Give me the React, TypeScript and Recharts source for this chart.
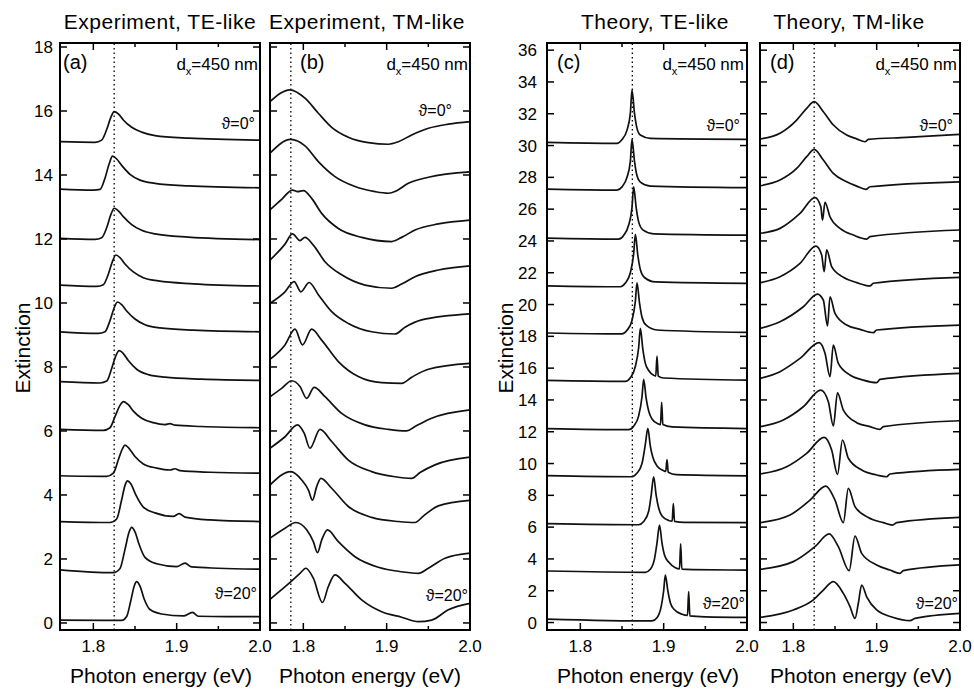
import React from 'react';
import { LineChart, Line, XAxis, YAxis, ReferenceLine } from 'recharts';

type Curve = number[][];

const FONT = '"Liberation Sans", Arial, sans-serif';

// x axis: photon energy (eV)
const energyTicks = [1.8, 1.85, 1.9, 1.95, 2.0];
const energyLabels: Record<string, string> = { '1.8': '1.8', '1.9': '1.9', '2': '2.0' };

// y axis ticks
const expTicks = [0, 2, 4, 6, 8, 10, 12, 14, 16, 18];
const theoTicks = [0, 2, 4, 6, 8, 10, 12, 14, 16, 18, 20, 22, 24, 26, 28, 30, 32, 34, 36];

// (a) Experiment, TE-like — theta 0..20 deg, top to bottom
const expTE: Curve[] = [
  [[1.76, 15.04], [1.802, 15.02], [1.81, 15.09], [1.816, 15.42], [1.821, 15.8], [1.825, 15.98], [1.83, 15.91], [1.836, 15.72], [1.846, 15.49], [1.858, 15.34], [1.874, 15.23], [1.914, 15.15], [2.0, 15.09]],
  [[1.76, 13.56], [1.8, 13.53], [1.808, 13.55], [1.814, 13.9], [1.819, 14.35], [1.823, 14.59], [1.828, 14.5], [1.834, 14.3], [1.844, 14.02], [1.856, 13.84], [1.874, 13.74], [1.914, 13.66], [2.0, 13.6]],
  [[1.76, 12.02], [1.802, 11.99], [1.81, 12.04], [1.816, 12.35], [1.821, 12.76], [1.825, 12.96], [1.83, 12.88], [1.836, 12.7], [1.846, 12.45], [1.858, 12.27], [1.874, 12.16], [1.914, 12.06], [2.0, 11.98]],
  [[1.76, 10.56], [1.804, 10.52], [1.812, 10.57], [1.818, 10.9], [1.823, 11.3], [1.827, 11.5], [1.832, 11.42], [1.838, 11.22], [1.848, 10.97], [1.86, 10.79], [1.878, 10.69], [1.92, 10.6], [2.0, 10.53]],
  [[1.76, 9.1], [1.806, 9.05], [1.814, 9.1], [1.82, 9.45], [1.825, 9.85], [1.829, 10.03], [1.834, 9.95], [1.84, 9.75], [1.85, 9.5], [1.862, 9.32], [1.88, 9.22], [1.92, 9.15], [2.0, 9.1]],
  [[1.76, 7.54], [1.808, 7.5], [1.816, 7.56], [1.822, 7.95], [1.827, 8.35], [1.831, 8.51], [1.836, 8.42], [1.842, 8.2], [1.852, 7.93], [1.866, 7.76], [1.886, 7.68], [1.93, 7.62], [2.0, 7.58]],
  [[1.76, 6.05], [1.812, 6.02], [1.82, 6.1], [1.826, 6.45], [1.832, 6.8], [1.836, 6.92], [1.842, 6.82], [1.848, 6.62], [1.858, 6.4], [1.872, 6.26], [1.886, 6.2], [1.892, 6.23], [1.898, 6.18], [1.93, 6.14], [2.0, 6.1]],
  [[1.76, 4.6], [1.816, 4.58], [1.824, 4.68], [1.83, 5.1], [1.835, 5.45], [1.838, 5.56], [1.843, 5.45], [1.85, 5.2], [1.86, 4.97], [1.876, 4.84], [1.892, 4.78], [1.898, 4.82], [1.904, 4.76], [1.94, 4.71], [2.0, 4.68]],
  [[1.76, 3.17], [1.82, 3.14], [1.828, 3.25], [1.834, 3.85], [1.838, 4.3], [1.841, 4.44], [1.845, 4.35], [1.851, 4.0], [1.86, 3.62], [1.874, 3.44], [1.896, 3.33], [1.903, 3.42], [1.91, 3.31], [1.94, 3.22], [2.0, 3.17]],
  [[1.76, 1.66], [1.824, 1.57], [1.832, 1.7], [1.838, 2.3], [1.843, 2.85], [1.846, 2.99], [1.85, 2.85], [1.855, 2.45], [1.862, 2.05], [1.876, 1.85], [1.9, 1.76], [1.91, 1.87], [1.918, 1.75], [1.95, 1.71], [2.0, 1.68]],
  [[1.76, 0.09], [1.834, 0.08], [1.84, 0.2], [1.845, 0.7], [1.849, 1.15], [1.852, 1.29], [1.856, 1.15], [1.861, 0.75], [1.868, 0.42], [1.882, 0.28], [1.908, 0.22], [1.919, 0.33], [1.926, 0.21], [1.96, 0.2], [2.0, 0.2]],
];

// (b) Experiment, TM-like
const expTM: Curve[] = [
  [[1.76, 16.29], [1.784, 16.66], [1.802, 16.4], [1.818, 15.93], [1.834, 15.49], [1.854, 15.18], [1.878, 15.01], [1.902, 14.96], [1.914, 15.04], [1.93, 15.25], [1.95, 15.46], [1.974, 15.59], [2.0, 15.67]],
  [[1.76, 14.68], [1.785, 15.11], [1.802, 14.91], [1.818, 14.42], [1.838, 13.95], [1.862, 13.64], [1.886, 13.48], [1.902, 13.43], [1.912, 13.51], [1.926, 13.74], [1.95, 13.93], [2.0, 14.1]],
  [[1.76, 12.91], [1.774, 13.24], [1.787, 13.53], [1.793, 13.48], [1.8, 13.51], [1.81, 13.27], [1.822, 12.8], [1.842, 12.33], [1.87, 12.05], [1.906, 11.92], [1.918, 12.05], [1.934, 12.28], [1.962, 12.47], [2.0, 12.59]],
  [[1.76, 11.34], [1.778, 11.84], [1.787, 12.16], [1.796, 11.95], [1.802, 12.05], [1.812, 11.81], [1.826, 11.29], [1.846, 10.88], [1.874, 10.56], [1.906, 10.46], [1.918, 10.59], [1.934, 10.82], [1.962, 11.03], [2.0, 11.16]],
  [[1.76, 9.99], [1.778, 10.35], [1.789, 10.67], [1.797, 10.35], [1.807, 10.64], [1.818, 10.26], [1.834, 9.73], [1.854, 9.36], [1.882, 9.1], [1.91, 9.03], [1.922, 9.24], [1.942, 9.47], [2.0, 9.66]],
  [[1.76, 8.24], [1.778, 8.69], [1.79, 9.18], [1.799, 8.69], [1.81, 9.18], [1.822, 8.84], [1.842, 8.17], [1.866, 7.7], [1.894, 7.51], [1.918, 7.49], [1.93, 7.68], [1.95, 7.93], [2.0, 8.11]],
  [[1.76, 7.07], [1.774, 7.33], [1.786, 7.57], [1.796, 7.39], [1.804, 7.02], [1.813, 7.36], [1.826, 7.07], [1.846, 6.55], [1.874, 6.19], [1.902, 6.05], [1.924, 6.0], [1.934, 6.14], [1.954, 6.4], [2.0, 6.66]],
  [[1.76, 5.46], [1.778, 5.82], [1.793, 6.19], [1.801, 5.93], [1.808, 5.46], [1.82, 6.05], [1.834, 5.67], [1.854, 5.09], [1.882, 4.73], [1.91, 4.57], [1.93, 4.52], [1.94, 4.7], [1.958, 4.94], [2.0, 5.18]],
  [[1.76, 4.31], [1.785, 4.73], [1.798, 4.47], [1.806, 4.16], [1.811, 3.84], [1.816, 4.26], [1.821, 4.52], [1.834, 4.21], [1.854, 3.64], [1.882, 3.3], [1.914, 3.17], [1.934, 3.14], [1.944, 3.34], [1.962, 3.66], [2.0, 3.83]],
  [[1.76, 2.65], [1.778, 2.96], [1.791, 3.14], [1.804, 2.91], [1.812, 2.54], [1.817, 2.2], [1.822, 2.59], [1.829, 2.91], [1.842, 2.54], [1.862, 2.07], [1.89, 1.74], [1.918, 1.6], [1.938, 1.55], [1.95, 1.71], [1.97, 2.02], [2.0, 2.18]],
  [[1.76, 0.74], [1.782, 1.22], [1.796, 1.55], [1.803, 1.71], [1.812, 1.4], [1.823, 0.64], [1.83, 1.14], [1.838, 1.5], [1.85, 1.24], [1.87, 0.72], [1.894, 0.35], [1.918, 0.18], [1.938, 0.04], [1.954, 0.09], [1.974, 0.41], [2.0, 0.61]],
];

// (c) Theory, TE-like
const theoTE: Curve[] = [
  [[1.76, 30.2], [1.844, 30.14], [1.8496, 30.35], [1.856, 30.97], [1.86, 32.02], [1.862, 33.49], [1.865, 32.02], [1.868, 31.08], [1.872, 30.66], [1.884, 30.45], [2.0, 30.39]],
  [[1.76, 27.26], [1.844, 27.2], [1.85, 27.4], [1.856, 28.0], [1.86, 29.0], [1.862, 30.39], [1.865, 29.0], [1.868, 28.1], [1.872, 27.7], [1.884, 27.45], [2.0, 27.35]],
  [[1.76, 24.18], [1.846, 24.12], [1.852, 24.35], [1.858, 25.0], [1.862, 26.1], [1.864, 27.41], [1.867, 26.1], [1.87, 25.2], [1.875, 24.7], [1.888, 24.45], [2.0, 24.37]],
  [[1.76, 21.18], [1.848, 21.12], [1.854, 21.35], [1.86, 22.0], [1.864, 23.2], [1.866, 24.41], [1.869, 23.1], [1.872, 22.2], [1.877, 21.7], [1.89, 21.42], [2.0, 21.33]],
  [[1.76, 18.21], [1.85, 18.15], [1.856, 18.38], [1.862, 19.0], [1.866, 20.2], [1.868, 21.37], [1.871, 20.1], [1.874, 19.2], [1.879, 18.7], [1.892, 18.4], [2.0, 18.25]],
  [[1.76, 15.23], [1.854, 15.17], [1.86, 15.4], [1.866, 16.1], [1.87, 17.3], [1.872, 18.5], [1.875, 17.2], [1.878, 16.3], [1.882, 15.85], [1.888, 15.55], [1.8905, 15.5], [1.892, 16.75], [1.8935, 15.5], [1.9, 15.38], [2.0, 15.25]],
  [[1.76, 12.2], [1.858, 12.13], [1.864, 12.35], [1.87, 13.0], [1.874, 14.2], [1.876, 15.29], [1.879, 14.1], [1.882, 13.3], [1.886, 12.8], [1.893, 12.5], [1.8962, 12.45], [1.8976, 13.85], [1.899, 12.45], [1.91, 12.3], [2.0, 12.2]],
  [[1.76, 9.24], [1.862, 9.17], [1.868, 9.4], [1.874, 10.0], [1.878, 11.2], [1.881, 12.21], [1.884, 11.1], [1.887, 10.4], [1.892, 9.85], [1.9, 9.55], [1.9025, 9.5], [1.904, 10.25], [1.9055, 9.45], [1.915, 9.3], [2.0, 9.23]],
  [[1.76, 6.22], [1.87, 6.15], [1.876, 6.35], [1.882, 7.0], [1.885, 8.0], [1.888, 9.17], [1.891, 8.0], [1.894, 7.2], [1.898, 6.7], [1.906, 6.42], [1.9102, 6.38], [1.9116, 7.48], [1.913, 6.36], [1.925, 6.3], [2.0, 6.28]],
  [[1.76, 3.24], [1.878, 3.16], [1.884, 3.35], [1.889, 4.0], [1.892, 5.0], [1.895, 6.13], [1.898, 5.0], [1.901, 4.25], [1.906, 3.8], [1.914, 3.45], [1.919, 3.38], [1.9204, 4.95], [1.9218, 3.36], [1.935, 3.33], [2.0, 3.3]],
  [[1.76, 0.22], [1.886, 0.1], [1.892, 0.3], [1.897, 1.0], [1.9, 2.0], [1.902, 2.99], [1.905, 2.0], [1.908, 1.25], [1.913, 0.8], [1.922, 0.52], [1.9286, 0.45], [1.93, 1.95], [1.9314, 0.42], [1.95, 0.36], [2.0, 0.32]],
];

// (d) Theory, TM-like
const theoTM: Curve[] = [
  [[1.76, 30.41], [1.784, 30.77], [1.804, 31.6], [1.816, 32.34], [1.825, 32.76], [1.836, 32.13], [1.848, 31.29], [1.864, 30.66], [1.876, 30.42], [1.886, 30.24], [1.89, 30.39], [1.936, 30.51], [2.0, 30.7]],
  [[1.76, 27.47], [1.784, 27.83], [1.804, 28.56], [1.816, 29.3], [1.825, 29.76], [1.836, 29.09], [1.848, 28.25], [1.864, 27.72], [1.876, 27.45], [1.887, 27.24], [1.892, 27.41], [2.0, 27.72]],
  [[1.76, 24.48], [1.784, 24.79], [1.808, 25.73], [1.826, 26.72], [1.833, 26.15], [1.835, 25.31], [1.838, 26.43], [1.844, 25.52], [1.856, 24.79], [1.872, 24.37], [1.888, 24.12], [1.892, 24.27], [2.0, 24.69]],
  [[1.76, 21.37], [1.784, 21.75], [1.808, 22.59], [1.827, 23.68], [1.834, 23.12], [1.837, 22.07], [1.84, 23.44], [1.846, 22.39], [1.86, 21.72], [1.876, 21.38], [1.892, 21.17], [1.896, 21.34], [2.0, 21.71]],
  [[1.76, 18.5], [1.784, 18.92], [1.812, 19.86], [1.829, 20.66], [1.836, 20.28], [1.841, 18.65], [1.844, 20.49], [1.85, 19.44], [1.864, 18.71], [1.88, 18.44], [1.896, 18.23], [1.9, 18.4], [2.0, 18.71]],
  [[1.76, 15.36], [1.784, 15.78], [1.808, 16.61], [1.831, 17.6], [1.838, 16.93], [1.844, 15.46], [1.848, 17.45], [1.854, 16.3], [1.868, 15.57], [1.884, 15.25], [1.9, 15.09], [1.904, 15.29], [2.0, 15.67]],
  [[1.76, 12.32], [1.788, 12.74], [1.812, 13.57], [1.833, 14.62], [1.842, 13.89], [1.848, 12.36], [1.853, 14.45], [1.86, 13.36], [1.876, 12.57], [1.892, 12.32], [1.904, 12.15], [1.908, 12.32], [2.0, 12.69]],
  [[1.76, 9.34], [1.792, 9.8], [1.816, 10.64], [1.837, 11.64], [1.846, 10.85], [1.853, 9.32], [1.859, 11.48], [1.866, 10.33], [1.882, 9.59], [1.9, 9.28], [1.912, 9.17], [1.916, 9.34], [2.0, 9.63]],
  [[1.76, 6.28], [1.796, 6.76], [1.82, 7.7], [1.839, 8.58], [1.85, 7.7], [1.86, 6.28], [1.866, 8.44], [1.874, 7.29], [1.89, 6.61], [1.908, 6.28], [1.919, 6.13], [1.924, 6.28], [2.0, 6.61]],
  [[1.76, 3.35], [1.8, 3.83], [1.826, 4.77], [1.843, 5.57], [1.854, 4.77], [1.867, 3.26], [1.874, 5.44], [1.882, 4.35], [1.9, 3.62], [1.916, 3.3], [1.928, 3.09], [1.932, 3.26], [2.0, 3.62]],
  [[1.76, 0.32], [1.8, 0.79], [1.824, 1.42], [1.836, 2.04], [1.848, 2.57], [1.86, 1.83], [1.868, 1.0], [1.874, 0.26], [1.878, 1.21], [1.882, 2.36], [1.888, 1.62], [1.9, 0.79], [1.92, 0.32], [1.94, 0.12], [1.946, 0.26], [2.0, 0.58]],
];

const PLOT_TOP = 43;
const PLOT_W = 200;
const PLOT_H = 587;
const PAD_L = 45;
const PAD_T = 8;
const PAD_R = 18;
const PAD_B = 32;

const frameLine = { stroke: '#000', strokeWidth: 2, strokeLinecap: 'square' as const };

function BottomTick(p: any) {
  const v = p.payload.value;
  const label = energyLabels[String(v)];
  return (
    <g>
      {v < 1.99 && <line x1={p.x} y1={p.y} x2={p.x} y2={p.y - (label ? 7 : 4)} stroke="#000" strokeWidth={1.5} />}
      {label && (
        <text x={p.x} y={p.y + 22} textAnchor="middle" fontSize={17} fontFamily={FONT} fill="#000">
          {label}
        </text>
      )}
    </g>
  );
}

function TopTick(p: any) {
  const v = p.payload.value;
  if (v > 1.99) return <g />;
  const major = energyLabels[String(v)] !== undefined;
  return <line x1={p.x} y1={p.y} x2={p.x} y2={p.y + (major ? 7 : 4)} stroke="#000" strokeWidth={1.5} />;
}

function LeftTick(p: any) {
  return (
    <g>
      <line x1={p.x} y1={p.y} x2={p.x + 7} y2={p.y} stroke="#000" strokeWidth={1.5} />
      {p.show && (
        <text x={p.x - p.gap} y={p.y + 6} textAnchor="end" fontSize={17} fontFamily={FONT} fill="#000">
          {p.payload.value}
        </text>
      )}
    </g>
  );
}

function RightTick(p: any) {
  return <line x1={p.x} y1={p.y} x2={p.x - 7} y2={p.y} stroke="#000" strokeWidth={1.5} />;
}

interface PanelProps {
  left: number;
  curves: Curve[];
  domain: [number, number];
  ticks: number[];
  showLabels: boolean;
  gap: number;
  marker: number;
}

function Panel({ left, curves, domain, ticks, showLabels, gap, marker }: PanelProps) {
  return (
    <div style={{ position: 'absolute', left: left - PAD_L, top: PLOT_TOP - PAD_T }}>
      <LineChart
        width={PLOT_W + PAD_L + PAD_R}
        height={PLOT_H + PAD_T + PAD_B}
        margin={{ top: 0, right: 0, bottom: 0, left: 0 }}
      >
        <XAxis
          dataKey="x"
          type="number"
          domain={[1.76, 2.0]}
          allowDataOverflow
          ticks={energyTicks}
          interval={0}
          height={PAD_B}
          tickSize={0}
          tickMargin={0}
          axisLine={frameLine}
          tick={(p: any) => <BottomTick {...p} />}
        />
        <XAxis
          xAxisId="t"
          orientation="top"
          dataKey="x"
          type="number"
          domain={[1.76, 2.0]}
          allowDataOverflow
          ticks={energyTicks}
          interval={0}
          height={PAD_T}
          tickSize={0}
          tickMargin={0}
          axisLine={frameLine}
          tick={(p: any) => <TopTick {...p} />}
        />
        <YAxis
          type="number"
          domain={domain}
          allowDataOverflow
          ticks={ticks}
          interval={0}
          width={PAD_L}
          tickSize={0}
          tickMargin={0}
          axisLine={frameLine}
          tick={(p: any) => <LeftTick {...p} show={showLabels} gap={gap} />}
        />
        <YAxis
          yAxisId="r"
          orientation="right"
          type="number"
          domain={domain}
          allowDataOverflow
          ticks={ticks}
          interval={0}
          width={PAD_R}
          tickSize={0}
          tickMargin={0}
          axisLine={frameLine}
          tick={(p: any) => <RightTick {...p} />}
        />
        <ReferenceLine x={marker} stroke="#000" strokeWidth={1.3} strokeDasharray="1.5 3" />
        {curves.map((c, i) => (
          <Line
            key={i}
            name={`curve${i}`}
            data={c.map(([x, y]) => ({ x, y }))}
            dataKey="y"
            type="monotone"
            dot={false}
            stroke="#111"
            strokeWidth={1.7}
            isAnimationActive={false}
          />
        ))}
      </LineChart>
    </div>
  );
}

function Txt({ x, y, size, align = 'left', ls = 0, children }: { x: number; y: number; size: number; align?: 'left' | 'center' | 'right'; ls?: number; children: React.ReactNode }) {
  const shift = align === 'center' ? '-50%' : align === 'right' ? '-100%' : '0';
  return (
    <div
      style={{
        position: 'absolute',
        left: x,
        top: y - 0.8465 * size,
        fontSize: size,
        lineHeight: `${size}px`,
        letterSpacing: ls,
        whiteSpace: 'nowrap',
        transform: `translateX(${shift})`,
        fontFamily: FONT,
        color: '#000',
      }}
    >
      {children}
    </div>
  );
}

function Dx({ right }: { right: number }) {
  return (
    <Txt x={right} y={70} size={17} align="right">
      d<sub style={{ fontSize: 11, verticalAlign: -5 }}>x</sub>=450 nm
    </Txt>
  );
}

function Extinction({ cx }: { cx: number }) {
  return (
    <div
      style={{
        position: 'absolute',
        left: cx,
        top: 348,
        fontSize: 21,
        lineHeight: '21px',
        fontFamily: FONT,
        whiteSpace: 'nowrap',
        transform: 'translate(-50%, -50%) rotate(-90deg)',
      }}
    >
      Extinction
    </div>
  );
}

export default function App() {
  const expDomain: [number, number] = [-0.22, 18.125];
  const theoDomain: [number, number] = [-0.47, 36.45];
  return (
    <div style={{ position: 'absolute', left: 0, top: 0, width: 974, height: 692, background: '#fff', overflow: 'hidden' }}>
      <Panel left={60} curves={expTE} domain={expDomain} ticks={expTicks} showLabels gap={7} marker={1.825} />
      <Panel left={270} curves={expTM} domain={expDomain} ticks={expTicks} showLabels={false} gap={7} marker={1.785} />
      <Panel left={547} curves={theoTE} domain={theoDomain} ticks={theoTicks} showLabels gap={10} marker={1.8624} />
      <Panel left={760} curves={theoTM} domain={theoDomain} ticks={theoTicks} showLabels={false} gap={10} marker={1.825} />

      <Txt x={160} y={28.5} size={21} align="center" ls={0.5}>Experiment, TE-like</Txt>
      <Txt x={367} y={28.5} size={21} align="center" ls={0.5}>Experiment, TM-like</Txt>
      <Txt x={655} y={28.5} size={21} align="center" ls={0.5}>Theory, TE-like</Txt>
      <Txt x={849} y={28.5} size={21} align="center" ls={0.5}>Theory, TM-like</Txt>

      <Txt x={161} y={683} size={21} align="center">Photon energy (eV)</Txt>
      <Txt x={370} y={683} size={21} align="center">Photon energy (eV)</Txt>
      <Txt x={648} y={683} size={21} align="center">Photon energy (eV)</Txt>
      <Txt x={861} y={683} size={21} align="center">Photon energy (eV)</Txt>

      <Extinction cx={22} />
      <Extinction cx={505} />

      <Txt x={63} y={68.5} size={20}>(a)</Txt>
      <Txt x={300} y={68.5} size={20}>(b)</Txt>
      <Txt x={557} y={68.5} size={20}>(c)</Txt>
      <Txt x={770} y={68.5} size={20}>(d)</Txt>

      <Dx right={258} />
      <Dx right={468} />
      <Dx right={744} />
      <Dx right={957} />

      <Txt x={255} y={130} size={16} align="right">ϑ=0°</Txt>
      <Txt x={452} y={117} size={16} align="right">ϑ=0°</Txt>
      <Txt x={740} y={132} size={16} align="right">ϑ=0°</Txt>
      <Txt x={953} y={132} size={16} align="right">ϑ=0°</Txt>

      <Txt x={257} y={600} size={16} align="right">ϑ=20°</Txt>
      <Txt x={468} y={602} size={16} align="right">ϑ=20°</Txt>
      <Txt x={745} y={610} size={16} align="right">ϑ=20°</Txt>
      <Txt x={958} y={610} size={16} align="right">ϑ=20°</Txt>
    </div>
  );
}
